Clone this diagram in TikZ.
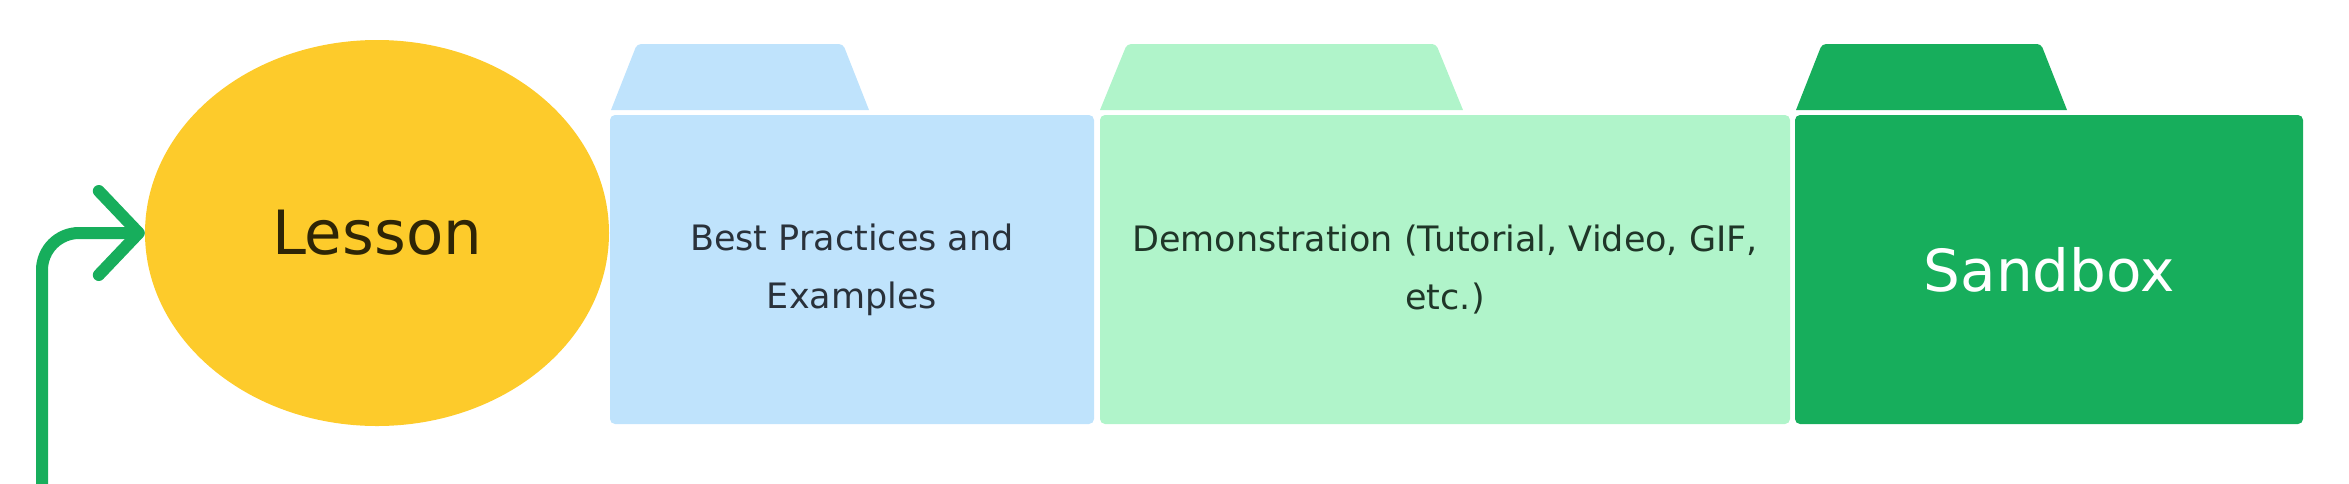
\documentclass[tikz,border=0pt]{standalone}
\usepackage{fontspec}
\setmainfont{DejaVu Sans}
\usetikzlibrary{shapes.geometric,arrows.meta}

\definecolor{lessonyellow}{HTML}{FDCB2B}
\definecolor{lessontext}{HTML}{2E2506}
\definecolor{bluebg}{HTML}{BFE3FC}
\definecolor{bluetext}{HTML}{29313A}
\definecolor{mintbg}{HTML}{B0F4CA}
\definecolor{minttext}{HTML}{1F3628}
\definecolor{sandgreen}{HTML}{17AE5C}

\tikzset{
    folder/.style={rounded corners=5pt, inner sep=0pt, align=center,
        font={\fontsize{35}{58}\selectfont}},
    loop arrow/.style={line width=12pt, sandgreen, rounded corners=37pt,
        -{Straight Barb[length=40pt, width=84pt, round]}}
}

\begin{document}
\begin{tikzpicture}[x=1pt, y=-1pt]
    \useasboundingbox (0,0) rectangle (2349,483);

    \node[ellipse, fill=lessonyellow, text=lessontext, inner sep=0pt,
        minimum width=464pt, minimum height=386pt,
        font={\fontsize{61}{72}\selectfont}] (lesson) at (377,233) {Lesson};

    % folder tabs
    \foreach \ta/\tb/\tc/\td/\col in {611/637/843/869/bluebg, 1100/1127/1436/1463/mintbg, 1796/1822/2041/2067/sandgreen} {
        \fill[\col] (\ta,110) [rounded corners=4pt] -- (\tb,44) -- (\tc,44)
            [sharp corners] -- (\td,110) -- cycle;
    }

    \node[folder, fill=bluebg, text=bluetext, minimum width=484pt,
        minimum height=309pt] (practices) at (852,269.5)
        {Best Practices and\\Examples};
    \node[folder, fill=mintbg, text=minttext, minimum width=690pt,
        minimum height=309pt] (demo) at (1445,269.5)
        {Demonstration (Tutorial, Video, GIF,\\etc.)};
    \node[folder, fill=sandgreen, text=white, minimum width=508pt,
        minimum height=309pt, font={\fontsize{58}{68}\selectfont}]
        (sandbox) at (2049,269.5) {Sandbox};

    \coordinate (loopstart) at (42,490);
    \draw[loop arrow] (loopstart) |- (lesson.west);
\end{tikzpicture}
\end{document}
